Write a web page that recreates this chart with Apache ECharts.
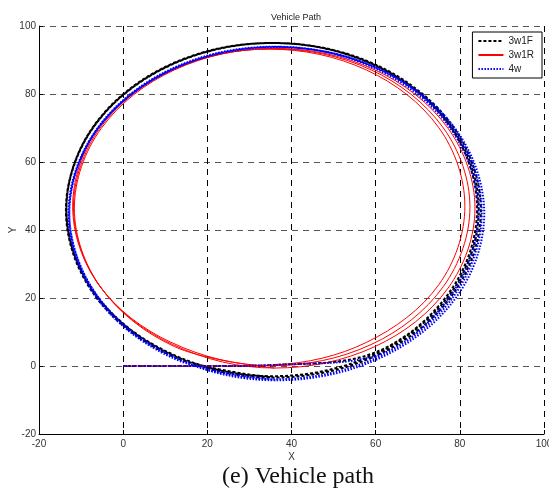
<!DOCTYPE html>
<html>
<head>
<meta charset="utf-8">
<script src="https://cdn.jsdelivr.net/npm/echarts@6/dist/echarts.min.js"></script>
<style>
html,body{margin:0;padding:0;background:#fff;}
#chart{width:549px;height:492px;}
</style>
</head>
<body>
<div id="chart"></div>
<script>
// Tick values
var xTicks = [-20, 0, 20, 40, 60, 80, 100];
var yTicks = [-20, 0, 20, 40, 60, 80, 100];
var seriesNames = ['3w1F', '3w1R', '4w'];

// 3w1F path (x, y)
var path3w1F = [
  [0,0],[12,0],[24,0],[36,0.3],
  [59.7,3.9],[77.6,21.8],[84.1,46.2],[77.6,70.6],[59.7,88.5],[35.3,95.0],[10.9,88.5],[-7.0,70.6],[-13.5,46.2],[-7.0,21.8],[10.9,3.9],
  [35.5,-3.0],[60.0,3.6],[77.9,21.5],[84.5,46.0],[77.9,70.5],[60.0,88.4],[35.5,95.0],[11.0,88.4],[-6.9,70.5],[-13.5,46.0],[-6.9,21.5],[11.0,3.6],
  [35.7,-3.4],[60.4,3.2],[78.4,21.2],[85.0,45.8],[78.4,70.4],[60.4,88.4],[35.7,95.0],[11.1,88.4],[-7.0,70.4],[-13.6,45.8],[-7.0,21.2],[11.1,3.2],
  [35.7,-3.4]
];

// 3w1R path
var path3w1R = [
  [0,0],[12,0],[24,0],[36,0.3],
  [57.9,7.0],[75.0,23.9],[81.2,47.0],[75.0,70.1],[57.9,87.0],[34.6,93.2],[11.3,87.0],[-5.8,70.1],[-12.0,47.0],[-5.8,23.9],[11.3,7.0],
  [35.3,0.1],[58.9,6.3],[76.1,23.4],[82.4,46.7],[76.1,70.0],[58.9,87.1],[35.3,93.3],[11.8,87.1],[-5.5,70.0],[-11.8,46.7],[-5.5,23.4],[11.8,6.3],
  [36.0,-0.6],[59.8,5.7],[77.2,22.9],[83.6,46.4],[77.2,69.9],[59.8,87.1],[36.0,93.4],[12.2,87.1],[-5.2,69.9],[-11.6,46.4],[-5.2,22.9],[12.2,5.7],
  [36.0,-0.6]
];

// 4w path
var path4w = [
  [0,0],[12,0],[24,0],[36,0.3],
  [60.1,3.0],[77.9,20.9],[84.4,45.2],[77.9,69.6],[60.1,87.4],[35.8,93.9],[11.5,87.4],[-6.3,69.6],[-12.8,45.2],[-6.3,20.9],[11.5,3.0],
  [36.2,-3.9],[60.7,2.7],[78.6,20.6],[85.2,45.0],[78.6,69.5],[60.7,87.4],[36.2,93.9],[11.7,87.4],[-6.2,69.5],[-12.8,45.0],[-6.2,20.6],[11.7,2.7],
  [36.4,-4.2],[61.1,2.4],[79.2,20.3],[85.8,44.8],[79.2,69.3],[61.1,87.2],[36.4,93.8],[11.7,87.2],[-6.4,69.3],[-13.0,44.8],[-6.4,20.3],[11.7,2.4],
  [36.4,-4.2]
];

var chart = echarts.init(document.getElementById('chart'), null, {renderer: 'canvas'});
var font = 'Liberation Sans, Arial, Helvetica, sans-serif';
var option = {
  backgroundColor: '#fff',
  animation: false,
  title: {
    text: 'Vehicle Path',
    left: 291, top: 8, textAlign: 'center',
    textStyle: {fontSize: 9, fontWeight: 'normal', color: '#222', fontFamily: font}
  },
  legend: {
    data: seriesNames,
    orient: 'vertical',
    right: 7, top: 32,
    itemWidth: 25, itemHeight: 10, itemGap: 4,
    padding: [4, 8, 4, 5],
    borderColor: '#000', borderWidth: 1, borderRadius: 0,
    backgroundColor: '#fff',
    itemStyle: {opacity: 0},
    textStyle: {fontSize: 10, color: '#222', fontFamily: font}
  },
  grid: {left: 39, right: 5, top: 26, bottom: 58, containLabel: false, outerBoundsMode: 'none'},
  xAxis: {
    type: 'value', min: xTicks[0], max: xTicks[xTicks.length - 1], interval: 20,
    name: 'X', nameLocation: 'middle', nameGap: 18, nameMoveOverlap: false,
    nameTextStyle: {fontSize: 10, color: '#333', fontFamily: font},
    axisLine: {show: true, onZero: false, lineStyle: {color: '#000', width: 1}},
    axisTick: {show: true, inside: true, length: 4, lineStyle: {color: '#000'}},
    axisLabel: {fontSize: 10, color: '#333', fontFamily: font, margin: 5},
    splitLine: {show: true, lineStyle: {color: '#000', type: [6, 5], width: 1}}
  },
  yAxis: {
    type: 'value', min: yTicks[0], max: yTicks[yTicks.length - 1], interval: 20,
    name: 'Y', nameLocation: 'middle', nameGap: 21, nameRotate: 90, nameMoveOverlap: false,
    nameTextStyle: {fontSize: 10, color: '#333', fontFamily: font},
    axisLine: {show: true, onZero: false, lineStyle: {color: '#000', width: 1}},
    axisTick: {show: true, inside: true, length: 4, lineStyle: {color: '#000'}},
    axisLabel: {fontSize: 10, color: '#333', fontFamily: font, margin: 3},
    splitLine: {show: true, lineStyle: {color: '#555', type: [6, 5], width: 1}}
  },
  graphic: [{
    type: 'text', left: 222, top: 465,
    style: {text: '(e) Vehicle path', font: '24px "Liberation Serif", "Times New Roman", serif', fill: '#111'}
  }],
  series: [
    {name: '3w1F', type: 'line', data: path3w1F, symbol: 'none', smooth: 0.35,
     lineStyle: {color: '#000', width: 2, type: [3, 2]}, itemStyle: {color: '#000'}},
    {name: '3w1R', type: 'line', data: path3w1R, symbol: 'none', smooth: 0.35,
     lineStyle: {color: '#ff0000', width: 1, type: 'solid'}, itemStyle: {color: '#ff0000'}},
    {name: '4w', type: 'line', data: path4w, symbol: 'none', smooth: 0.35,
     lineStyle: {color: '#0000ff', width: 2, type: [1.5, 1.5]}, itemStyle: {color: '#0000ff'}}
  ]
};
chart.setOption(option);
</script>
</body>
</html>
